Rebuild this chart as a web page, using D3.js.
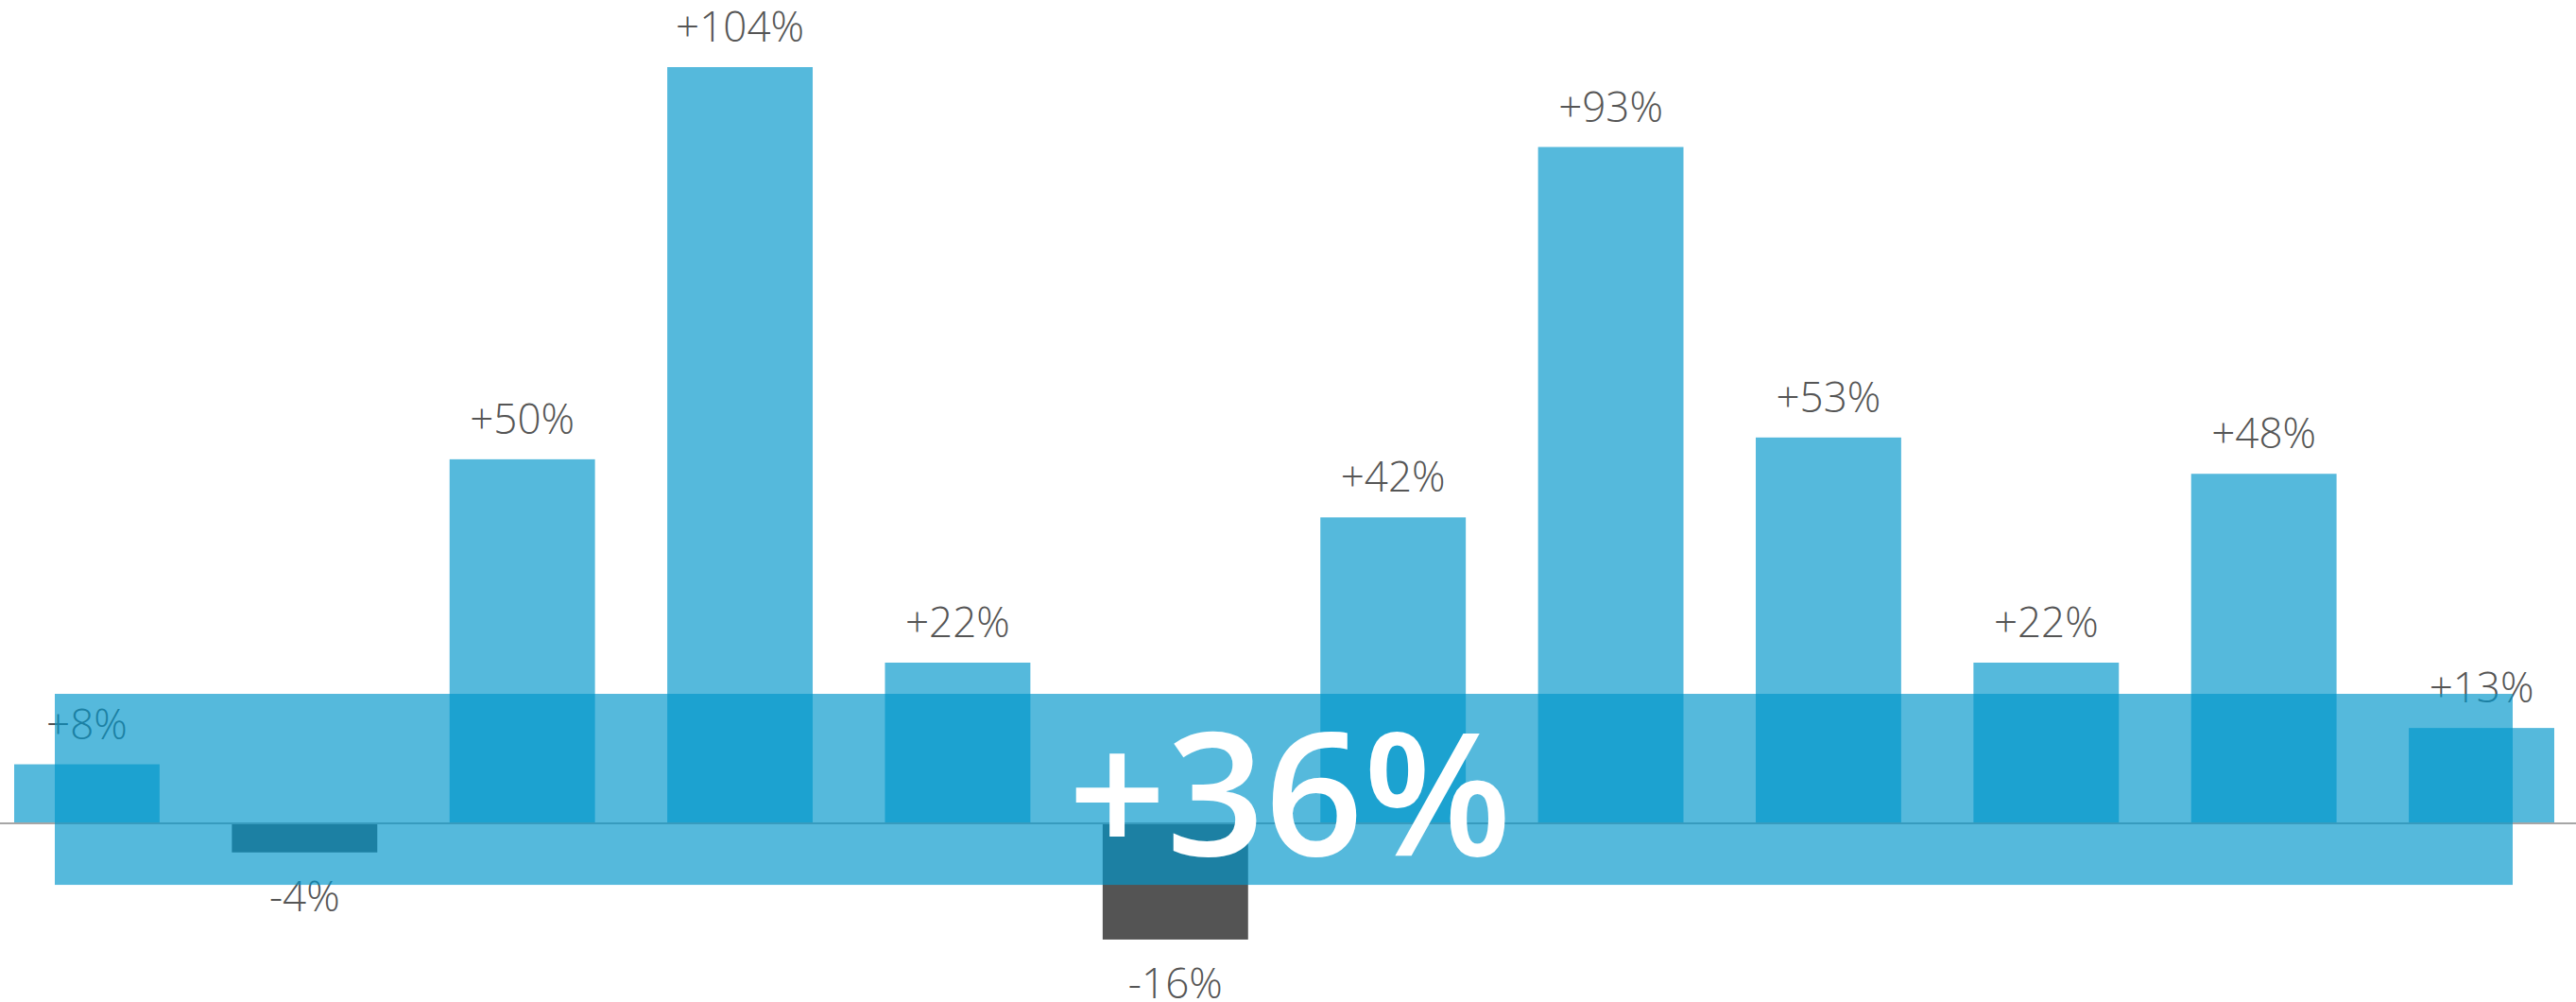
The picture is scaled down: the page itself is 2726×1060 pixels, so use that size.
<!DOCTYPE html>
<html>
<head>
<meta charset="utf-8">
<title>Growth by period</title>
<style type="text/css">
body{ margin: 0; background: #fff; }
.label{ font-family: "Open Sans", "Noto Sans", sans-serif; font-size: 44px; font-weight: 300; fill: #555; text-anchor: middle; }
.total{ font-family: "Open Sans", "Noto Sans", sans-serif; font-size: 182px; font-weight: 600; fill: #fff; text-anchor: middle; }
</style>
<script type="text/javascript" src="https://cdn.jsdelivr.net/npm/d3@7/dist/d3.min.js"></script>
</head>
<body>
<script>
// data
var periods = ["P1","P2","P3","P4","P5","P6","P7","P8","P9","P10","P11","P12"];
var changes = [8, -4, 50, 104, 22, -16, 42, 93, 53, 22, 48, 13];
var totalChange = 36;

const width = 2726, height = 1060;
const svg = d3.select("body").append("svg").attr("width", width).attr("height", height);

const x = d3.scaleBand().domain(periods).range([15, 2703]).paddingInner(0.332).paddingOuter(0);
const y = d3.scaleLinear().domain([0, 104]).range([870, 71]);

const fmt = v => (v > 0 ? "+" : "") + v + "%";
const data = periods.map((p, i) => ({period: p, value: changes[i]}));

// bars
svg.append("g").selectAll("rect").data(data).enter().append("rect")
  .attr("x", d => x(d.period))
  .attr("width", x.bandwidth())
  .attr("y", d => d.value >= 0 ? y(d.value) : y(0) + 1)
  .attr("height", d => Math.abs(y(d.value) - y(0)))
  .attr("fill", d => d.value >= 0 ? "#0096ca" : "#545454")
  .attr("fill-opacity", d => d.value >= 0 ? 0.667 : 1);

// value labels
svg.append("g").selectAll("text").data(data).enter().append("text")
  .attr("class", "label")
  .attr("x", d => x(d.period) + x.bandwidth() / 2)
  .attr("y", d => d.value >= 0 ? y(d.value) - 27 : y(d.value) + 63)
  .text(d => fmt(d.value));

// zero line
svg.append("line")
  .attr("x1", 0).attr("x2", width)
  .attr("y1", y(0) + 1).attr("y2", y(0) + 1)
  .attr("stroke", "#a6a6a6").attr("stroke-width", 2);

// summary band over everything
svg.append("rect")
  .attr("x", 58).attr("width", 2659 - 58)
  .attr("y", y(17.7)).attr("height", y(-8.6) - y(17.7))
  .attr("fill", "#0096ca").attr("fill-opacity", 0.667);

svg.append("text")
  .attr("class", "total")
  .attr("x", 1365).attr("y", 905)
  .text(fmt(totalChange));
</script>
</body>
</html>
